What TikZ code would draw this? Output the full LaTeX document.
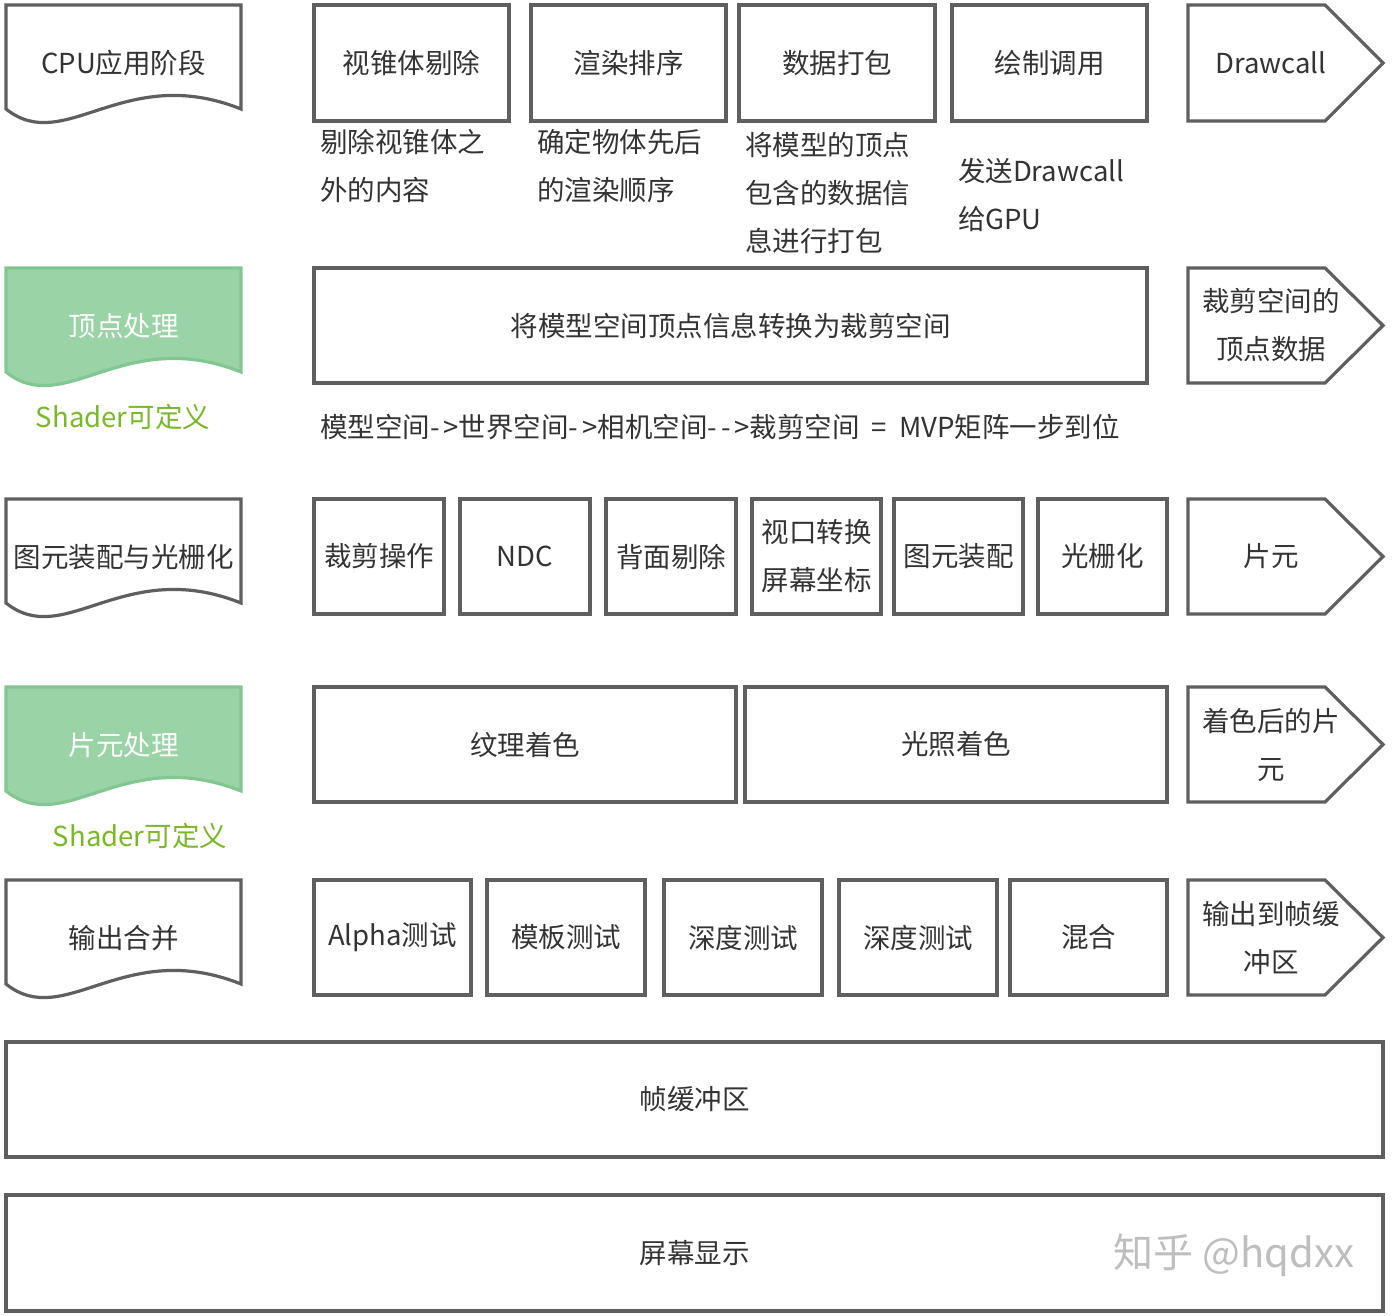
\documentclass[tikz,border=0pt]{standalone}
\usepackage{fontspec}
\setmainfont{Noto Sans CJK SC}
\definecolor{linec}{RGB}{95,95,95}
\definecolor{txtc}{RGB}{51,51,51}
\definecolor{gfill}{RGB}{154,211,166}
\definecolor{gline}{RGB}{130,199,146}
\definecolor{shc}{RGB}{122,184,40}
\definecolor{wmc}{RGB}{190,190,190}
\newcommand\rbox[6]{%
  \pgfmathsetmacro\bw{#4-#2}\pgfmathsetmacro\bh{#5-#3}%
  \node[box, minimum width=\bw pt, minimum height=\bh pt] (#1) at ({(#2+#4)/2},{(#3+#5)/2}) {#6};}
\newcommand\arrowshape[4]{%
  \draw[shapeline] (1188,#2) -- (1325,#2) -- (1383,{(#2+#3)/2}) -- (1325,#3) -- (1188,#3) -- cycle;
  \node[lbl] (#1) at (1271,{(#2+#3)/2}) {#4};}
\newcommand\docshape[5]{%
  \draw[#1] (6,#3) -- (241,#3) -- (241,{#3+104}) .. controls (123.5,{#3+57}) and (64.75,{#3+151}) .. (6,{#3+104}) -- cycle;
  \node[lbl, #5] (#2) at (123.5,{#3+58}) {#4};}
\begin{document}
\begin{tikzpicture}[x=1pt,y=-1pt,
  every node/.style={font=\fontsize{27.5}{48}\selectfont, text=txtc, inner sep=0pt, outer sep=0pt},
  box/.style={draw=linec, line width=3.2pt, fill=white, align=center},
  shapeline/.style={draw=linec, line width=3.2pt, line join=miter, fill=white},
  greenshape/.style={draw=gline, line width=3.2pt, fill=gfill},
  lbl/.style={align=center},
  note/.style={align=left, anchor=west},
  shader/.style={text=shc},
  wm/.style={text=wmc, font=\fontsize{40}{44}\selectfont}]
\fill[white] (0,0) rectangle (1394,1316);
\useasboundingbox (0,0) rectangle (1394,1316);
% Row 1
\docshape{shapeline}{d1}{5}{CPU应用阶段}{}
\rbox{b11}{314}{5}{509}{121}{视锥体剔除}
\rbox{b12}{531}{5}{726}{121}{渲染排序}
\rbox{b13}{739}{5}{935}{121}{数据打包}
\rbox{b14}{952}{5}{1147}{121}{绘制调用}
\arrowshape{a1}{5}{121}{Drawcall}
\node[note] (n11) at (320,166) {剔除视锥体之\\外的内容};
\node[note] (n12) at (537,166) {确定物体先后\\的渲染顺序};
\node[note] (n13) at (745,193) {将模型的顶点\\包含的数据信\\息进行打包};
\node[note] (n14) at (958,195) {发送Drawcall\\给GPU};
% Row 2
\docshape{greenshape}{d2}{268}{顶点处理}{text=white}
\node[shader] (s2) at (123,417) {Shader可定义};
\rbox{b21}{314}{268}{1147}{383}{将模型空间顶点信息转换为裁剪空间}
\arrowshape{a2}{268}{383}{裁剪空间的\\顶点数据}
\node[note] (n21) at (320,427) {模型空间-\kern4pt>世界空间-\kern4pt>相机空间-\kern4pt-\kern4pt>裁剪空间\hspace{12pt}=\hspace{12pt}MVP矩阵一步到位};
% Row 3
\docshape{shapeline}{d3}{499}{图元装配与光栅化}{}
\rbox{b31}{314}{499}{444}{614}{裁剪操作}
\rbox{b32}{460}{499}{590}{614}{NDC}
\rbox{b33}{606}{499}{736}{614}{背面剔除}
\rbox{b34}{752}{499}{881}{614}{视口转换\\屏幕坐标}
\rbox{b35}{894}{499}{1023}{614}{图元装配}
\rbox{b36}{1038}{499}{1167}{614}{光栅化}
\arrowshape{a3}{499}{614}{片元}
% Row 4
\docshape{greenshape}{d4}{687}{片元处理}{text=white}
\node[shader] (s4) at (140,836) {Shader可定义};
\rbox{b41}{314}{687}{736}{802}{纹理着色}
\rbox{b42}{745}{687}{1167}{802}{光照着色}
\arrowshape{a4}{687}{802}{着色后的片\\元}
% Row 5
\docshape{shapeline}{d5}{880}{输出合并}{}
\rbox{b51}{314}{880}{471}{995}{Alpha测试}
\rbox{b52}{487}{880}{645}{995}{模板测试}
\rbox{b53}{664}{880}{822}{995}{深度测试}
\rbox{b54}{839}{880}{997}{995}{深度测试}
\rbox{b55}{1010}{880}{1167}{995}{混合}
\arrowshape{a5}{880}{995}{输出到帧缓\\冲区}
% Rows 6, 7
\rbox{b6}{6}{1042}{1383}{1157}{帧缓冲区}
\rbox{b7}{6}{1195}{1383}{1311}{屏幕显示}
\node[wm] (wm) at (1234,1255) {知乎 @hqdxx};
\end{tikzpicture}
\end{document}
